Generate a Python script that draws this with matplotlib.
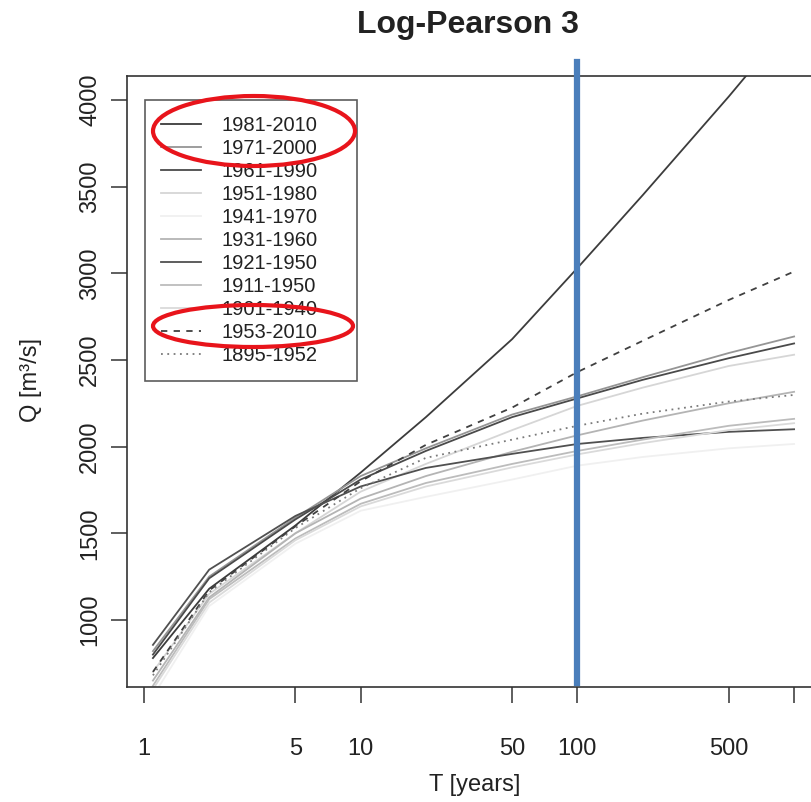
import matplotlib
matplotlib.use("Agg")
import matplotlib.pyplot as plt
from matplotlib.patches import Ellipse

plt.rcParams['font.family'] = ['Liberation Sans', 'DejaVu Sans']

# return periods [years]
T = [1.1, 2, 5, 10, 20, 50, 100, 200, 500, 1000]

# Q [m3/s] per reference period
q_1981_2010 = [780, 1180, 1545, 1850, 2170, 2620, 3030, 3450, 4020, 4470]
q_1971_2000 = [820, 1250, 1590, 1830, 1990, 2185, 2290, 2400, 2540, 2635]
q_1961_1990 = [800, 1240, 1580, 1810, 1975, 2170, 2278, 2385, 2510, 2595]
q_1951_1980 = [700, 1150, 1500, 1740, 1900, 2095, 2235, 2340, 2465, 2530]
q_1941_1970 = [560, 1080, 1440, 1630, 1710, 1810, 1890, 1940, 1990, 2015]
q_1931_1960 = [650, 1130, 1500, 1700, 1830, 1970, 2065, 2150, 2250, 2316]
q_1921_1950 = [856, 1290, 1600, 1770, 1877, 1958, 2015, 2050, 2085, 2100]
q_1911_1950 = [620, 1120, 1470, 1670, 1790, 1900, 1975, 2040, 2120, 2160]
q_1901_1940 = [600, 1100, 1460, 1655, 1770, 1880, 1955, 2020, 2095, 2135]
q_1953_2010 = [700, 1170, 1540, 1800, 2010, 2225, 2430, 2610, 2846, 3010]
q_1895_1952 = [680, 1160, 1530, 1760, 1935, 2040, 2120, 2190, 2260, 2298]

labels = ["1981-2010", "1971-2000", "1961-1990", "1951-1980", "1941-1970",
          "1931-1960", "1921-1950", "1911-1950", "1901-1940", "1953-2010",
          "1895-1952"]
series = [q_1981_2010, q_1971_2000, q_1961_1990, q_1951_1980, q_1941_1970,
          q_1931_1960, q_1921_1950, q_1911_1950, q_1901_1940, q_1953_2010,
          q_1895_1952]
colors = ["#3c3c3c", "#959595", "#4a4a4a", "#d6d6d6", "#f0f0f0",
          "#b4b4b4", "#505050", "#bcbcbc", "#dadada", "#404040", "#7a7a7a"]
styles = ["-"] * 9 + [(0, (3.5, 3.5)), (0, (1, 2.5))]

x_ticks = [1, 5, 10, 50, 100, 500, 1000]
x_ticklabels = ["1", "5", "10", "50", "100", "500", ""]  # 1000 is cut off in the original
y_ticks = [1000, 1500, 2000, 2500, 3000, 3500, 4000]
T_mark = 100

W, H = 811, 802
fig = plt.figure(figsize=(W / 100, H / 100), dpi=100)
# axes box runs past the right edge of the picture (cropped original)
ax = fig.add_axes([127 / W, 1 - 687 / H, 694 / W, 611 / H])

for q, lab, c, ls in zip(series, labels, colors, styles):
    ax.plot(T, q, color=c, linestyle=ls, lw=1.3, label=lab)

ax.set_xscale("log")
ax.set_xlim(0.835, 1331)
ax.set_ylim(613, 4138)
ax.set_xticks(x_ticks)
ax.set_xticklabels(x_ticklabels)
ax.minorticks_off()
ax.set_yticks(y_ticks)
ax.set_yticklabels([str(v) for v in y_ticks], rotation=90, va="center")

txt = "#222222"
for s in ["left", "bottom", "top", "right"]:
    ax.spines[s].set_color("#333333")
    ax.spines[s].set_linewidth(1.2)
ax.tick_params(axis="both", length=11.5, width=1.1, color="#333333",
               labelsize=17, labelcolor=txt)
ax.tick_params(axis="x", pad=25)
ax.tick_params(axis="y", pad=7)

ax.set_xlabel("T [years]", fontsize=17, color=txt, va="center")
ax.xaxis.set_label_coords(0.501, -0.160)
ax.set_ylabel("Q [m³/s]", fontsize=17, color=txt, va="center")
ax.yaxis.set_label_coords(-0.138, 0.502)
ax.set_title("Log-Pearson 3", fontsize=23, fontweight="bold", color=txt,
             x=(468 - 127) / 694, y=1 + (76 - 33) / 611, va="center")

leg = ax.legend(loc="upper left",
                bbox_to_anchor=(145 / W, 1 - 378 / H, 212 / W, 278 / H),
                bbox_transform=fig.transFigure, mode="expand",
                fontsize=14.5, frameon=True, fancybox=False,
                edgecolor="#333333", handlelength=2.0, handletextpad=1.0,
                labelspacing=0.2, borderpad=0.8, borderaxespad=0)
leg.get_frame().set_linewidth(1.2)
for t in leg.get_texts():
    t.set_color(txt)

# blue marker at T = 100
ax.axvline(T_mark, ymin=0.0065, ymax=1.023, color="#4a7ebb", lw=4.5,
           clip_on=False, zorder=5)

# red highlight ellipses
fig.add_artist(Ellipse((254 / W, 1 - 131 / H), 202 / W, 70 / H,
                       transform=fig.transFigure, fill=False,
                       edgecolor="#e8141b", lw=3))
fig.add_artist(Ellipse((253 / W, 1 - 326 / H), 200 / W, 42 / H,
                       transform=fig.transFigure, fill=False,
                       edgecolor="#e8141b", lw=3))

fig.savefig("out.png", dpi=100, facecolor="white")
